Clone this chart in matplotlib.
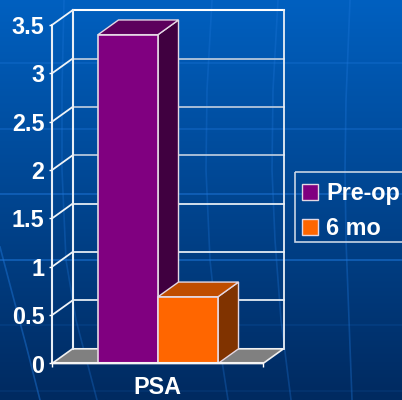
import numpy as np
import matplotlib
matplotlib.use("Agg")
import matplotlib.pyplot as plt
from matplotlib.patches import Polygon, Patch, Rectangle

plt.rcParams['font.family'] = ['Liberation Sans', 'DejaVu Sans']

categories = ['PSA']
series_names = ['Pre-op', '6 mo']
series_values = [3.4, 0.69]
series_front = ['#800080', '#FF6600']
series_top = ['#5C005C', '#BF4D00']
series_side = ['#400040', '#803300']
y_ticks = [0, 0.5, 1, 1.5, 2, 2.5, 3, 3.5]
y_labels = ['0', '0.5', '1', '1.5', '2', '2.5', '3', '3.5']

W, H = 402, 400
fig = plt.figure(figsize=((W + 0.01) / 100, (H + 0.01) / 100), dpi=100)

# background
bg = fig.add_axes([0, 0, 1, 1], zorder=0)
bg.axis('off')
top = np.array([0, 96, 192]) / 255
bot = np.array([0, 42, 96]) / 255
t = np.linspace(0, 1, 200)[:, None, None]
bg.imshow(top + (bot - top) * t, extent=[0, W, H, 0], aspect='auto', zorder=0)
streak = '#1F78DC'
for yy, a in [(63, .35), (129, .4), (194, .55), (260, .6), (325, .15), (391, .12)]:
    bg.plot([0, W], [yy, yy], color=streak, lw=1.2, alpha=a)
for xs, ys, a in [([350, 346, 345, 346, 349, 352], [0, 100, 170, 240, 320, 400], .35),
                  ([278, 273, 272, 275, 281, 291], [0, 90, 170, 240, 320, 400], .3),
                  ([212, 207, 206, 210, 218, 228], [0, 90, 170, 260, 335, 400], .3),
                  ([64, 62, 62, 66, 76, 97], [0, 90, 170, 260, 320, 400], .3),
                  ([0, 14, 26, 40], [247, 300, 345, 400], .45)]:
    bg.plot(xs, ys, color=streak, lw=1.2, alpha=a)
# legend frame, in picture pixels
bg.add_patch(Rectangle((294.5, 172.5), 120, 69.5, fc='none', ec='#C8D4E4', lw=1.2, zorder=3))
bg.set_xlim(0, W); bg.set_ylim(H, 0)

# plot axes: front plane of the 3-D box
x0, x1, y0, y35 = 52, 263, 363.5, 25
ax = fig.add_axes([x0 / W, 1 - y0 / H, (x1 - x0) / W, (y0 - y35) / H], zorder=1)
ax.set_xlim(0, 1); ax.set_ylim(0, 3.5)
ax.patch.set_alpha(0)
for s in ax.spines.values():
    s.set_visible(False)
ddx, ddy = 20.5 / (x1 - x0), 14.7 / ((y0 - y35) / 3.5)
bar_w = 60 / (x1 - x0)
bar_x = 46 / (x1 - x0)

wall = '#E8EEF5'
kw = dict(clip_on=False, solid_capstyle='projecting')
# floor
ax.add_patch(Polygon([(0, 0), (1, 0), (1 + ddx, ddy), (ddx, ddy)], closed=True,
                     fc='#808080', ec='#F0F0F0', lw=1.2, clip_on=False, zorder=1))
# gridlines on the side and back walls
for v in y_ticks[1:-1]:
    grid_c = '#B4C6DC' if v >= 2 else '#E4ECF4'
    ax.plot([ddx, 1 + ddx], [v + ddy, v + ddy], color=grid_c, lw=1.3, zorder=1, **kw)
for v in y_ticks[1:]:
    ax.plot([0, ddx], [v, v + ddy], color='#F0F4F8', lw=1.3, zorder=1, **kw)
ax.plot([ddx, 1 + ddx], [3.5 + ddy, 3.5 + ddy], color='white', lw=1.5, zorder=1, **kw)
ax.plot([ddx, ddx], [ddy, 3.5 + ddy], color=wall, lw=1.5, zorder=1, **kw)
ax.plot([1 + ddx, 1 + ddx], [ddy, 3.5 + ddy], color=wall, lw=1.3, zorder=1, **kw)
# axes lines and tick marks
ax.plot([0, 0], [0, 3.5], color=wall, lw=1.5, zorder=1, **kw)
ax.plot([0, 1], [0, 0], color='#F4F4F4', lw=1.5, zorder=5, **kw)
ax.set_xticks([0, 1]); ax.set_xticklabels([])
ax.set_yticks(y_ticks); ax.set_yticklabels(y_labels, fontsize=16.8, fontweight='bold', color='white')
ax.tick_params(axis='y', length=2.5, width=1, color='white', pad=3)
ax.tick_params(axis='x', length=3, width=1, color='white')

# bars
edge = '#E4D8E4'
for i, (v, cf, ct, cs) in enumerate(zip(series_values, series_front, series_top, series_side)):
    l = bar_x + i * bar_w
    r = l + bar_w
    z = 2 + i
    ax.add_patch(Polygon([(r, 0), (r + ddx, ddy), (r + ddx, v + ddy), (r, v)], closed=True,
                         fc=cs, ec=edge, lw=1, zorder=z, clip_on=False))
    ax.add_patch(Polygon([(l, v), (l + ddx, v + ddy), (r + ddx, v + ddy), (r, v)], closed=True,
                         fc=ct, ec=edge, lw=1, zorder=z, clip_on=False))
    ax.bar(l, v, width=bar_w, align='edge', color=cf, edgecolor=edge, linewidth=1.2, zorder=z)

ax.text(0.5, -24 / ((y0 - y35) / 3.5), categories[0], ha='center', va='center', fontsize=16.8,
        fontweight='bold', color='white', clip_on=False)

# legend
handles = [Patch(fc=c, ec='#E4D8E4', lw=1, label=n) for c, n in zip(series_front, series_names)]
leg = fig.legend(handles=handles, loc='upper left', bbox_to_anchor=(294.5 / W, 1 - 174.5 / H),
                 bbox_transform=fig.transFigure, borderaxespad=0, fontsize=16.8, frameon=False,
                 handlelength=0.67, handleheight=0.67, handletextpad=0.34, labelspacing=0.5,
                 borderpad=0.34)
for tx in leg.get_texts():
    tx.set_color('white'); tx.set_fontweight('bold')
leg.set_zorder(5)

fig.savefig('out.png', dpi=100)
